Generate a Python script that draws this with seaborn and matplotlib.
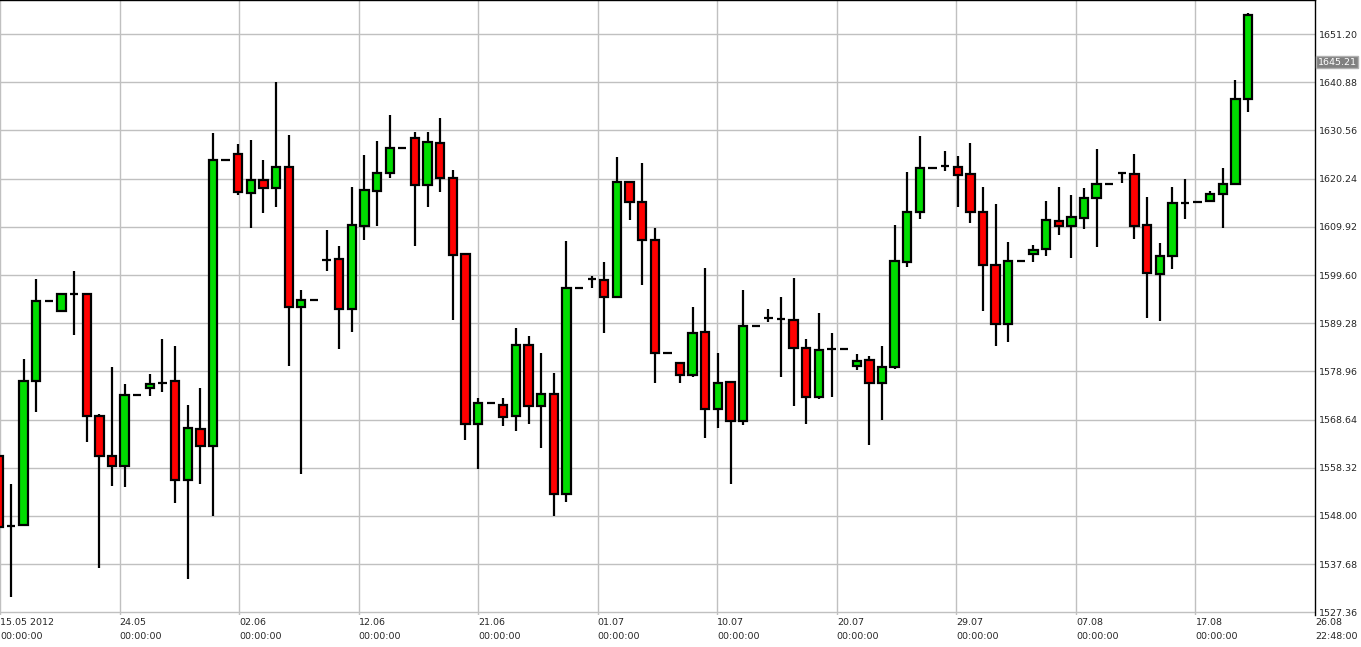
import numpy as np
import pandas as pd
import matplotlib
matplotlib.use("Agg")
import matplotlib.pyplot as plt
import seaborn as sns

# daily OHLC (one bar per day)
opens = [1560.8, 1545.9, 1546.1, 1576.9, 1594.0, 1591.8, 1595.6, 1595.6, 1569.5, 1560.8,
         1558.8, 1574.0, 1575.5, 1576.5, 1576.8, 1555.6, 1566.6, 1563.0, 1624.2, 1625.6,
         1617.1, 1619.9, 1618.2, 1622.8, 1592.8, 1594.2, 1602.8, 1603.0, 1592.4, 1610.0,
         1617.7, 1621.5, 1626.9, 1629.0, 1618.9, 1627.8, 1620.4, 1604.0, 1567.8, 1572.2,
         1571.8, 1569.4, 1584.6, 1571.5, 1574.1, 1552.7, 1596.9, 1598.7, 1598.5, 1594.9,
         1619.6, 1615.3, 1607.2, 1582.9, 1580.8, 1578.2, 1587.5, 1570.9, 1576.6, 1568.3,
         1588.7, 1590.4, 1590.2, 1589.9, 1584.0, 1573.4, 1583.7, 1583.7, 1580.1, 1581.3,
         1576.4, 1579.8, 1602.3, 1613.1, 1622.6, 1623.0, 1622.8, 1621.3, 1613.0, 1601.8,
         1589.1, 1602.5, 1604.1, 1605.2, 1611.2, 1610.2, 1611.9, 1616.0, 1619.2, 1621.5,
         1621.2, 1610.3, 1599.8, 1603.7, 1615.1, 1615.2, 1615.5, 1617.0, 1619.1, 1637.3]
highs = [1561.5, 1554.8, 1581.7, 1598.8, 1594.0, 1595.6, 1600.4, 1595.6, 1569.8, 1579.8,
         1576.3, 1574.0, 1578.5, 1585.8, 1584.5, 1571.7, 1575.5, 1630.1, 1624.2, 1627.6,
         1628.5, 1624.2, 1641.0, 1629.5, 1596.4, 1594.2, 1609.2, 1605.9, 1618.4, 1625.2,
         1628.3, 1633.9, 1626.9, 1630.3, 1630.3, 1633.2, 1622.1, 1604.2, 1573.2, 1572.2,
         1573.2, 1588.2, 1586.6, 1582.8, 1578.7, 1606.9, 1596.9, 1599.4, 1602.3, 1624.8,
         1619.6, 1623.5, 1609.6, 1582.9, 1581.0, 1592.7, 1601.0, 1583.0, 1576.6, 1596.5,
         1588.7, 1592.4, 1594.8, 1598.9, 1585.8, 1591.4, 1587.1, 1583.7, 1582.6, 1582.3,
         1584.4, 1610.3, 1621.7, 1629.4, 1622.6, 1626.2, 1625.1, 1627.8, 1618.4, 1614.9,
         1606.6, 1602.5, 1606.0, 1615.5, 1618.4, 1616.7, 1618.2, 1626.6, 1619.2, 1621.7,
         1625.5, 1616.4, 1606.5, 1618.5, 1620.1, 1615.2, 1617.7, 1622.5, 1641.4, 1655.8]
lows = [1545.0, 1530.7, 1546.0, 1570.3, 1594.0, 1591.8, 1586.7, 1563.9, 1536.8, 1554.4,
        1554.3, 1574.0, 1573.7, 1574.6, 1550.8, 1534.5, 1554.8, 1547.9, 1624.2, 1616.7,
        1609.7, 1612.8, 1614.1, 1580.1, 1557.0, 1594.2, 1600.5, 1583.7, 1587.5, 1607.2,
        1610.2, 1620.3, 1626.9, 1605.9, 1614.1, 1617.4, 1589.9, 1564.3, 1558.0, 1572.2,
        1567.3, 1566.3, 1567.7, 1562.6, 1548.0, 1551.0, 1596.9, 1596.9, 1587.2, 1594.9,
        1611.4, 1597.4, 1576.5, 1582.9, 1576.4, 1577.8, 1564.6, 1566.9, 1554.9, 1567.5,
        1588.7, 1589.6, 1577.8, 1571.5, 1567.7, 1573.0, 1573.5, 1583.7, 1579.2, 1563.2,
        1568.6, 1579.4, 1601.3, 1611.7, 1622.6, 1621.9, 1614.2, 1610.8, 1592.0, 1584.5,
        1585.3, 1602.5, 1602.3, 1603.7, 1608.2, 1603.3, 1609.5, 1605.5, 1619.2, 1619.4,
        1607.4, 1590.3, 1589.8, 1600.8, 1611.6, 1615.2, 1615.5, 1609.7, 1619.1, 1634.6]
closes = [1545.7, 1545.9, 1576.9, 1594.0, 1594.0, 1595.6, 1595.6, 1569.5, 1560.8, 1558.8,
          1574.0, 1574.0, 1576.2, 1576.5, 1555.7, 1566.8, 1563.0, 1624.2, 1624.2, 1617.3,
          1619.9, 1618.2, 1622.8, 1592.8, 1594.2, 1594.2, 1602.8, 1592.4, 1610.3, 1617.8,
          1621.5, 1626.9, 1626.9, 1618.8, 1628.1, 1620.3, 1603.9, 1567.8, 1572.2, 1572.2,
          1569.3, 1584.6, 1571.5, 1574.1, 1552.7, 1596.9, 1596.9, 1598.7, 1594.9, 1619.6,
          1615.3, 1607.1, 1582.9, 1582.9, 1578.2, 1587.2, 1570.9, 1576.5, 1568.3, 1588.7,
          1588.7, 1590.4, 1590.2, 1583.9, 1573.4, 1583.5, 1583.7, 1583.7, 1581.2, 1576.4,
          1580.0, 1602.5, 1613.2, 1622.6, 1622.6, 1623.0, 1621.0, 1613.0, 1601.8, 1589.1,
          1602.5, 1602.5, 1605.0, 1611.4, 1610.2, 1612.1, 1616.2, 1619.2, 1619.2, 1621.5,
          1610.2, 1600.0, 1603.7, 1615.1, 1615.1, 1615.2, 1617.0, 1619.1, 1637.3, 1655.3]

date_labels = ["15.05 2012", "24.05", "02.06", "12.06", "21.06", "01.07",
               "10.07", "20.07", "29.07", "07.08", "17.08", "26.08"]
time_labels = ["00:00:00"] * 11 + ["22:48:00"]
y_ticks = [1527.36, 1537.68, 1548.00, 1558.32, 1568.64, 1578.96, 1589.28,
           1599.60, 1609.92, 1620.24, 1630.56, 1640.88, 1651.20]
last_price = 1645.21

df = pd.DataFrame({"open": opens, "high": highs, "low": lows, "close": closes})
df["idx"] = np.arange(len(df))
df["up"] = df["close"] >= df["open"]

sns.set_style("white")
plt.rcParams["font.family"] = ["DejaVu Sans"]

fig = plt.figure(figsize=(13.61, 6.47), dpi=100)
ax = fig.add_axes([0.0, 0.0495, 0.9662, 0.9505])

# grid
tick_pos = [0.13 + 9.47 * k for k in range(len(date_labels))]
for t in tick_pos[:-1]:
    ax.axvline(t, color="#c0c0c0", lw=1, zorder=0)
for yv in y_ticks:
    ax.axhline(yv, color="#c0c0c0", lw=1, zorder=0)

# wicks
ax.vlines(df["idx"], df["low"], df["high"], color="black", lw=1.6, zorder=2)

# bodies
w = 0.66
body_lo = df[["open", "close"]].min(axis=1)
body_h = (df["close"] - df["open"]).abs()
colors = np.where(df["up"], "#00dd00", "#ff0000")
ax.bar(df["idx"], body_h, bottom=body_lo, width=w, color=colors,
       edgecolor="black", linewidth=1.6, zorder=3)

ax.set_xlim(0.13, 103.92)
ax.set_ylim(1526.8, 1658.5)

ax.yaxis.tick_right()
ax.set_yticks(y_ticks)
ax.set_yticklabels([f"{v:.2f}" for v in y_ticks], fontsize=6.8)
ax.tick_params(axis="y", length=0, pad=3)
ax.set_xticks(tick_pos)
ax.set_xticklabels([f"{d}\n{t}" for d, t in zip(date_labels, time_labels)],
                   fontsize=6.8, ha="left", linespacing=1.7)
ax.tick_params(axis="x", length=0, pad=2)

for s in ["left", "bottom"]:
    ax.spines[s].set_visible(False)
for s in ["right", "top"]:
    ax.spines[s].set_color("black")
    ax.spines[s].set_linewidth(1)

ax.text(1.002, (last_price - 1526.8) / (1658.5 - 1526.8), f"{last_price:.2f}",
        transform=ax.transAxes, fontsize=6.8, color="white", va="center", ha="left",
        bbox=dict(boxstyle="square,pad=0.15", facecolor="#808080", edgecolor="#b0b0b0"))

fig.savefig("out.png", dpi=100)
